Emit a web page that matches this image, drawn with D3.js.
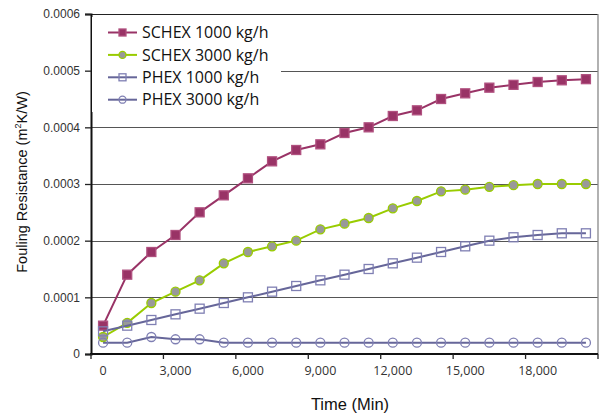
<!DOCTYPE html>
<html>
<head>
<meta charset="utf-8">
<script src="https://cdn.jsdelivr.net/npm/d3@7"></script>
<style>
  body { margin: 0; background: #fff; }
  svg { display: block; }
</style>
</head>
<body>
<div id="chart"></div>
<script>
// time in minutes, one category per 1000 min
var times = [0, 1000, 2000, 3000, 4000, 5000, 6000, 7000, 8000, 9000, 10000,
             11000, 12000, 13000, 14000, 15000, 16000, 17000, 18000, 19000, 20000];

var schex1000 = [0.00005, 0.00014, 0.00018, 0.00021, 0.00025, 0.00028, 0.00031, 0.00034, 0.00036, 0.00037, 0.00039,
                 0.0004, 0.00042, 0.00043, 0.00045, 0.00046, 0.00047, 0.000475, 0.00048, 0.000483, 0.000485];
var schex3000 = [0.00003, 0.000055, 0.00009, 0.00011, 0.00013, 0.00016, 0.00018, 0.00019, 0.0002, 0.00022, 0.00023,
                 0.00024, 0.000257, 0.00027, 0.000287, 0.00029, 0.000295, 0.000298, 0.0003, 0.0003, 0.0003];
var phex1000  = [0.00004, 0.00005, 0.00006, 0.00007, 0.00008, 0.00009, 0.0001, 0.00011, 0.00012, 0.00013, 0.00014,
                 0.00015, 0.00016, 0.00017, 0.00018, 0.00019, 0.0002, 0.000206, 0.00021, 0.000213, 0.000213];
var phex3000  = [0.00002, 0.00002, 0.00003, 0.000026, 0.000026, 0.00002, 0.00002, 0.00002, 0.00002, 0.00002, 0.00002,
                 0.00002, 0.00002, 0.00002, 0.00002, 0.00002, 0.00002, 0.00002, 0.00002, 0.00002, 0.00002];

var seriesNames = ["SCHEX 1000 kg/h", "SCHEX 3000 kg/h", "PHEX 1000 kg/h", "PHEX 3000 kg/h"];
var xTickLabels = [0, 3000, 6000, 9000, 12000, 15000, 18000];
var yTicks = [0, 0.0001, 0.0002, 0.0003, 0.0004, 0.0005, 0.0006];

var styles = [
    {line: "#993366", shape: "square", fill: "#993366", stroke: "#b0507f"},
    {line: "#99cc00", shape: "circle", fill: "#999999", stroke: "#99cc00"},
    {line: "#666699", shape: "square", fill: "none",    stroke: "#7f7fb3"},
    {line: "#666699", shape: "circle", fill: "none",    stroke: "#7f7fb3"}
];

(function() {
    var series = [schex1000, schex3000, phex1000, phex3000].map(function(vals, i) {
        return {name: seriesNames[i], style: styles[i],
                values: vals.map(function(v, j) { return {t: times[j], v: v}; })};
    });

    var width = 602, height = 413,
        mLeft = 91, mRight = 598, mTop = 14, mBottom = 354;

    var svg = d3.select("#chart").append("svg")
        .attr("width", width)
        .attr("height", height);

    var xScale = d3.scaleBand().domain(times).range([mLeft, mRight]).padding(0),
        yScale = d3.scaleLinear().domain([0, 0.0006]).range([mBottom, mTop]),
        cx = function(t) { return xScale(t) + xScale.bandwidth() / 2; };

    var yFormat = function(d) { return d === 0 ? "0" : d3.format(".4f")(d); };

    // gridlines
    svg.append("g").selectAll("line")
        .data(yTicks.slice(1))
        .enter().append("line")
        .attr("x1", mLeft).attr("x2", mRight)
        .attr("y1", (d) => Math.round(yScale(d)) + 0.5).attr("y2", (d) => Math.round(yScale(d)) + 0.5)
        .attr("stroke", (d) => d === 0.0006 ? "#222" : "#555")
        .attr("stroke-width", 1.2);

    // right border
    svg.append("line")
        .attr("x1", mRight).attr("x2", mRight)
        .attr("y1", mTop).attr("y2", mBottom)
        .attr("stroke", "#888").attr("stroke-width", 1.3);

    // y axis
    var yAxis = d3.axisLeft(yScale).tickValues(yTicks).tickFormat(yFormat).tickSize(6).tickPadding(5);
    var yGroup = svg.append("g")
        .attr("transform", "translate(" + mLeft + ",0)")
        .call(yAxis);
    yGroup.select(".domain").attr("stroke", "#111").attr("stroke-width", 2);
    yGroup.selectAll(".tick line").attr("stroke", "#222").attr("stroke-width", 1.3);
    yGroup.selectAll(".tick text")
        .attr("font-family", "'Liberation Sans', Arial, sans-serif")
        .attr("font-size", 12)
        .attr("fill", "#333");

    // x axis: ticks on category boundaries, labels centred on categories
    var xAxis = d3.axisBottom(xScale).tickValues(xTickLabels).tickSize(0).tickPadding(12)
        .tickFormat(d3.format(","));
    var xGroup = svg.append("g")
        .attr("transform", "translate(0," + mBottom + ")")
        .call(xAxis);
    xGroup.select(".domain").remove();
    xGroup.selectAll(".tick text")
        .attr("font-family", "'Open Sans', sans-serif")
        .attr("font-size", 12.5)
        .attr("fill", "#333");

    svg.append("line")
        .attr("x1", mLeft - 1).attr("x2", mRight)
        .attr("y1", mBottom).attr("y2", mBottom)
        .attr("stroke", "#111").attr("stroke-width", 2);

    var boundaryTicks = xTickLabels.map((t) => xScale(t)).concat([mRight]);
    svg.append("g").selectAll("line")
        .data(boundaryTicks)
        .enter().append("line")
        .attr("x1", (d) => d).attr("x2", (d) => d)
        .attr("y1", mBottom).attr("y2", mBottom + 5)
        .attr("stroke", "#222").attr("stroke-width", 1.3);

    // legend background hides gridline
    var legend = svg.append("g");
    legend.append("rect")
        .attr("x", mLeft + 1).attr("y", 17)
        .attr("width", 189).attr("height", 95)
        .attr("fill", "#fff");

    // axis titles
    svg.append("text")
        .attr("x", 350).attr("y", 410)
        .attr("text-anchor", "middle")
        .attr("font-family", "'Liberation Sans', Arial, sans-serif")
        .attr("font-size", 16.5)
        .attr("fill", "#111")
        .text("Time (Min)");

    var yTitle = svg.append("text")
        .attr("transform", "translate(27,182) rotate(-90)")
        .attr("text-anchor", "middle")
        .attr("font-family", "'Liberation Sans', Arial, sans-serif")
        .attr("font-size", 14.5)
        .attr("fill", "#111");
    yTitle.append("tspan").text("Fouling Resistance (m");
    yTitle.append("tspan").attr("font-size", 9).attr("dy", -6).text("2");
    yTitle.append("tspan").attr("dy", 6).text("K/W)");

    function drawMarker(g, style, x, y, size) {
        var el;
        if (style.shape === "square") {
            el = g.append("rect")
                .attr("x", x - size / 2).attr("y", y - size / 2)
                .attr("width", size).attr("height", size);
        } else {
            el = g.append("circle")
                .attr("cx", x).attr("cy", y).attr("r", size / 2);
        }
        el.attr("fill", style.fill === "none" ? "#fff" : style.fill)
            .attr("fill-opacity", style.fill === "none" ? 0 : 1)
            .attr("stroke", style.stroke).attr("stroke-width", 1.3);
    }

    var line = d3.line().x((d) => cx(d.t)).y((d) => yScale(d.v));

    series.forEach(function(s) {
        var g = svg.append("g").attr("class", "series");
        g.append("path")
            .datum(s.values)
            .attr("d", line)
            .attr("fill", "none")
            .attr("stroke", s.style.line)
            .attr("stroke-width", 2);
        s.values.forEach(function(d) {
            drawMarker(g, s.style, cx(d.t), yScale(d.v), 9);
        });
    });

    // legend entries
    series.forEach(function(s, i) {
        var y = 32.5 + i * 22.4;
        var g = legend.append("g");
        g.append("line")
            .attr("x1", 108).attr("x2", 137)
            .attr("y1", y).attr("y2", y)
            .attr("stroke", s.style.line).attr("stroke-width", 2);
        drawMarker(g, s.style, 122.5, y, 7);
        g.append("text")
            .attr("x", 142).attr("y", y)
            .attr("dy", "0.36em")
            .attr("font-family", "'Open Sans', sans-serif")
            .attr("font-size", 16)
            .attr("fill", "#111")
            .text(s.name);
    });
})();
</script>
</body>
</html>
